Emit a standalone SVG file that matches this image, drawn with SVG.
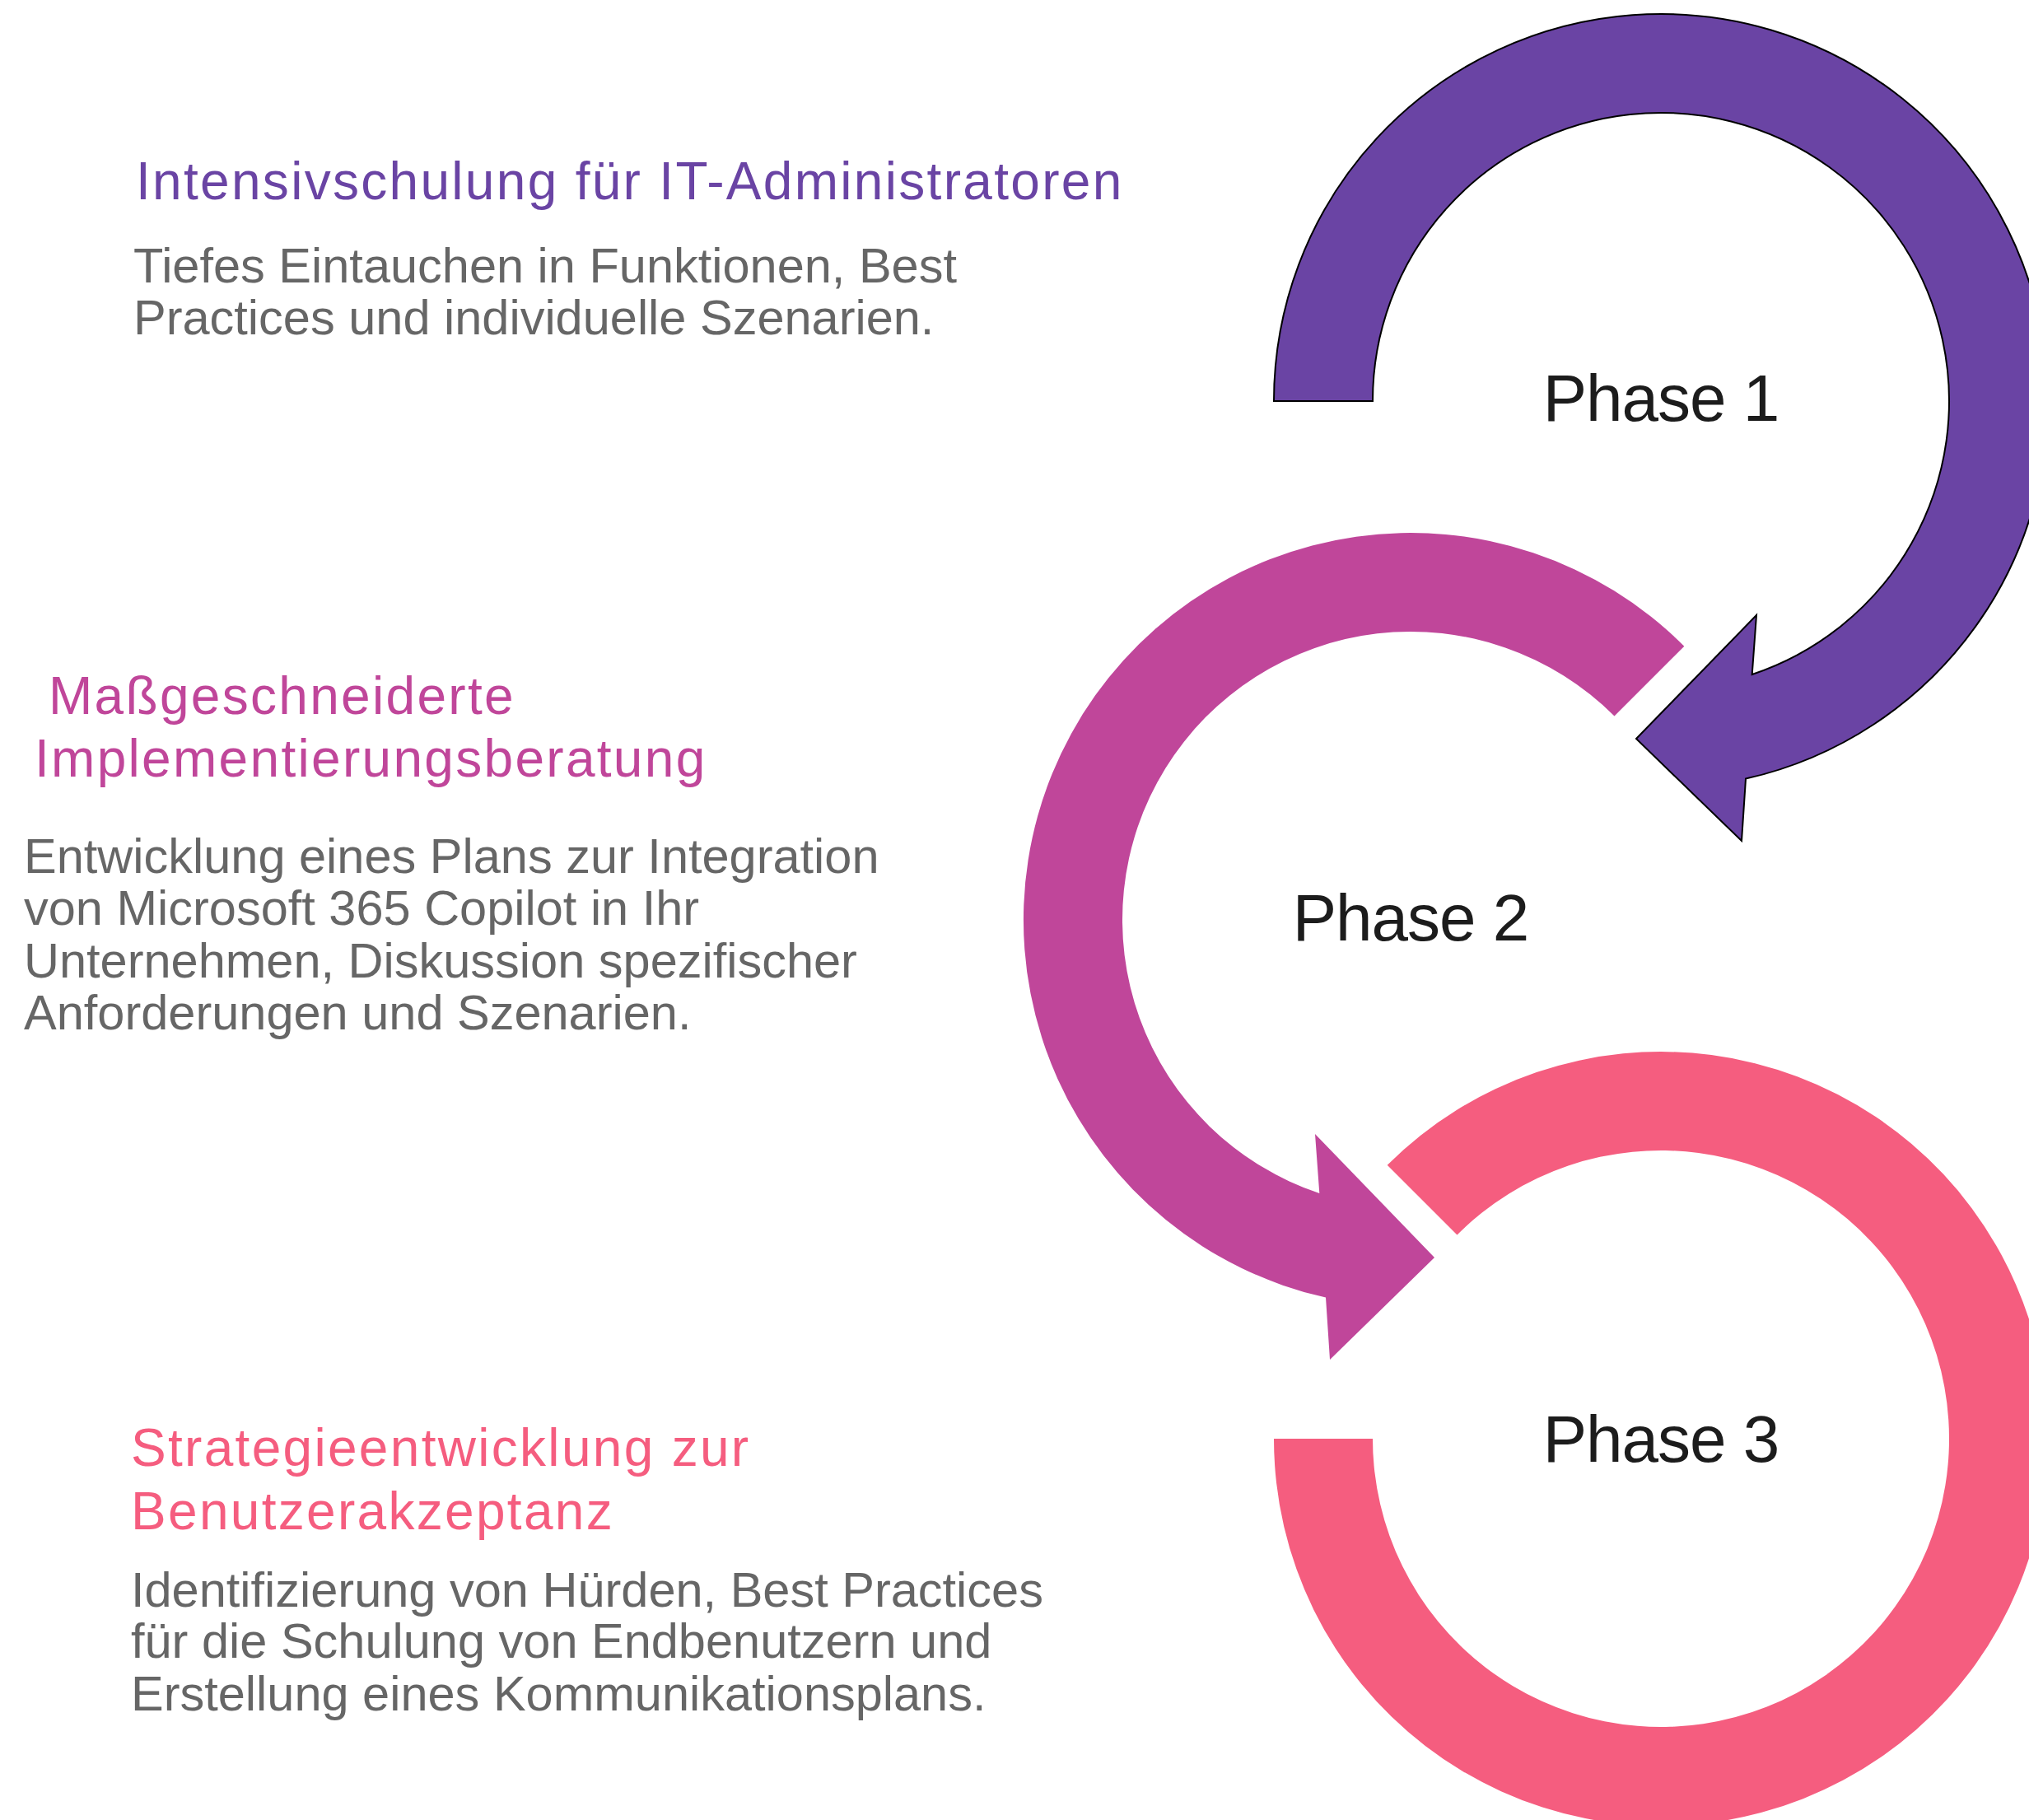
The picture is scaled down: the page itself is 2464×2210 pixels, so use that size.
<svg xmlns="http://www.w3.org/2000/svg" width="2464" height="2210" viewBox="0 0 2464 2210">
  <style>
    .title { font-family: "Liberation Sans", Arial, sans-serif; font-size: 64px; letter-spacing: 2.3px; font-weight: 500; }
    .body { font-family: "Liberation Sans", Arial, sans-serif; font-size: 59.5px; fill: #666666; }
    .phase { font-family: "Liberation Sans", Arial, sans-serif; font-size: 80px; letter-spacing: -1px; fill: #1c1c1c; text-anchor: middle; }
    .c1 { fill: #6a44a4; }
    .c2 { fill: #c0469a; }
    .c3 { fill: #f55d7f; }
  </style>
  <rect width="2464" height="2210" fill="#ffffff"/>

  <g id="connectors">
    <path id="arc-phase1" class="c1" stroke="#000000" stroke-width="2" stroke-linejoin="miter"
      d="M 1547 487 A 470 470 0 1 1 2120 945.6 L 2115 1021 L 1987 897 L 2133 747 L 2127.7 819 A 350 350 0 1 0 1667 487 Z"/>
    <path id="arc-phase2" class="c2"
      d="M 2045.3 784.7 A 470 470 0 1 0 1610 1575.6 L 1615 1651 L 1742 1527 L 1597 1377 L 1602.3 1449 A 350 350 0 1 1 1960.5 869.5 Z"/>
    <path id="arc-phase3" class="c3"
      d="M 1684.7 1414.7 A 470 470 0 1 1 1547 1747 L 1667 1747 A 350 350 0 1 0 1769.5 1499.5 Z"/>
  </g>

  <g id="phase1">
    <text class="phase" x="2017" y="511">Phase 1</text>
  </g>
  <g id="phase2">
    <text class="phase" x="1713" y="1142">Phase 2</text>
  </g>
  <g id="phase3">
    <text class="phase" x="2017" y="1775">Phase 3</text>
  </g>

  <g id="desc1">
    <text class="title" x="165" y="242" fill="#6a44a4">Intensivschulung für IT-Administratoren</text>
    <text class="body" x="162" y="343">Tiefes Eintauchen in Funktionen, Best</text>
    <text class="body" x="162" y="406">Practices und individuelle Szenarien.</text>
  </g>

  <g id="desc2">
    <text class="title" x="59" y="867" fill="#c0469a">Maßgeschneiderte</text>
    <text class="title" x="42" y="943" fill="#c0469a">Implementierungsberatung</text>
    <text class="body" x="29" y="1060">Entwicklung eines Plans zur Integration</text>
    <text class="body" x="29" y="1123">von Microsoft 365 Copilot in Ihr</text>
    <text class="body" x="29" y="1187">Unternehmen, Diskussion spezifischer</text>
    <text class="body" x="29" y="1250">Anforderungen und Szenarien.</text>
  </g>

  <g id="desc3">
    <text class="title" x="159" y="1780" fill="#f55d7f">Strategieentwicklung zur</text>
    <text class="title" x="159" y="1857" fill="#f55d7f">Benutzerakzeptanz</text>
    <text class="body" x="159" y="1951">Identifizierung von Hürden, Best Practices</text>
    <text class="body" x="159" y="2013">für die Schulung von Endbenutzern und</text>
    <text class="body" x="159" y="2077">Erstellung eines Kommunikationsplans.</text>
  </g>
</svg>
